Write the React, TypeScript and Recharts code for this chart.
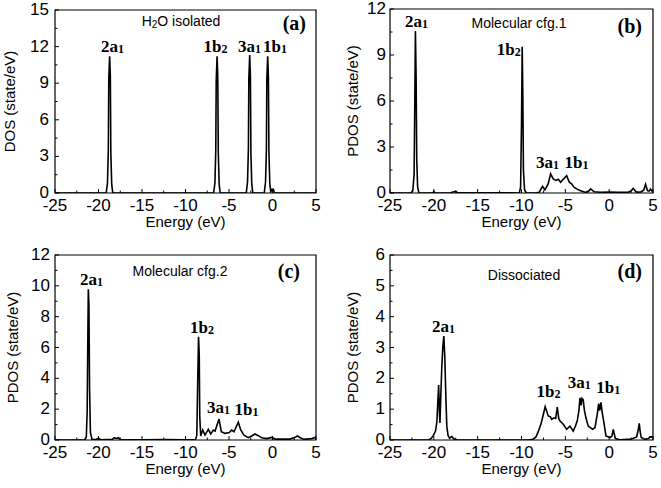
import React from 'react';
import { LineChart, Line, XAxis, YAxis, ReferenceArea, ReferenceDot } from 'recharts';

type Pt = [number, number];

const SANS = '"Liberation Sans", Arial, sans-serif';
const SERIF = '"Liberation Serif", "Times New Roman", serif';

// energy axis, major every 5 eV, minor every 2.5 eV
const energyTicks = [-25, -22.5, -20, -17.5, -15, -12.5, -10, -7.5, -5, -2.5, 0, 2.5, 5];

const yTicksA = [0, 1.5, 3, 4.5, 6, 7.5, 9, 10.5, 12, 13.5, 15];
const yTicksB = [0, 1.5, 3, 4.5, 6, 7.5, 9, 10.5, 12];
const yTicksC = [0, 1, 2, 3, 4, 5, 6, 7, 8, 9, 10, 11, 12];
const yTicksD = [0, 0.5, 1, 1.5, 2, 2.5, 3, 3.5, 4, 4.5, 5, 5.5, 6];

// (a) isolated H2O, total DOS
const isolatedDos: Pt[] = [
  [-25, 0], [-19.12, 0], [-18.97, 0.8], [-18.87, 3.6], [-18.82, 9.3], [-18.72, 11.2], [-18.64, 9.6], [-18.58, 3.2], [-18.48, 0.7], [-18.36, 0],
  [-6.77, 0], [-6.62, 0.8], [-6.52, 3.5], [-6.47, 9.2], [-6.37, 11.2], [-6.29, 9.5], [-6.23, 3.3], [-6.13, 0.7], [-6.01, 0],
  [-3.02, 0], [-2.87, 0.9], [-2.77, 3.6], [-2.72, 9.4], [-2.62, 11.3], [-2.54, 9.6], [-2.48, 3.2], [-2.38, 0.7], [-2.26, 0],
  [-0.95, 0], [-0.8, 0.9], [-0.7, 3.6], [-0.65, 9.4], [-0.55, 11.2], [-0.47, 9.5], [-0.41, 3.3], [-0.31, 0.8], [-0.2, 0.1],
  [-0.05, 0.3], [0.1, 0.3], [0.22, 0], [5, 0],
];

// (b) molecular configuration 1
const cfg1Pdos: Pt[] = [
  [-25, 0], [-22.6, 0], [-22.4, 0.15], [-22.25, 1.2], [-22.17, 6], [-22.1, 10.57], [-22.02, 7.5], [-21.95, 2.2], [-21.85, 0.4], [-21.7, 0],
  [-20.1, 0], [-20.0, 0.1], [-19.85, 0], [-18.1, 0.02], [-17.8, 0.07], [-17.5, 0.1], [-17.3, 0.02], [-15, 0.01], [-12.6, 0.02],
  [-10.25, 0], [-10.1, 0.4], [-10.0, 4.5], [-9.92, 9.54], [-9.85, 6.5], [-9.78, 1.5], [-9.65, 0.2], [-9.45, 0],
  [-8.3, 0.02], [-7.98, 0.05], [-7.6, 0.44], [-7.33, 0.2], [-6.95, 0.61], [-6.68, 1.25], [-6.38, 0.92], [-6.07, 0.82],
  [-5.8, 0.9], [-5.54, 0.7], [-5.24, 0.9], [-4.85, 1.13], [-4.55, 0.7], [-4.28, 0.6], [-4.02, 0.38], [-3.71, 0.27],
  [-3.33, 0.17], [-2.76, 0.05], [-2.4, 0.08], [-2.12, 0.27], [-1.7, 0.08], [-1.0, 0.05], [0, 0.06], [1.0, 0.05],
  [2.2, 0.06], [2.5, 0.14], [2.74, 0.3], [3.1, 0.06], [3.65, 0.07], [3.95, 0.2], [4.15, 0.57], [4.37, 0.15],
  [4.55, 0.12], [4.72, 0.25], [5, 0.05],
];

// (c) molecular configuration 2
const cfg2Pdos: Pt[] = [
  [-25, 0], [-21.6, 0], [-21.4, 0.2], [-21.3, 1.9], [-21.24, 5.8], [-21.17, 9.77], [-21.1, 8.8], [-21.03, 3.5], [-20.93, 0.5],
  [-20.75, 0.05], [-20.3, 0.03], [-20.0, 0.1], [-19.7, 0.02], [-18.4, 0.05], [-18.2, 0.15], [-17.9, 0.1], [-17.7, 0.15],
  [-17.5, 0.03], [-15, 0.02], [-12.5, 0.03], [-10, 0.02],
  [-8.85, 0.03], [-8.7, 0.3], [-8.6, 3.7], [-8.5, 6.7], [-8.42, 5.5], [-8.36, 1.5], [-8.25, 0.26], [-8.02, 0.65],
  [-7.76, 0.32], [-7.38, 0.69], [-7.1, 0.39], [-6.8, 0.65], [-6.6, 0.58], [-6.15, 1.36], [-5.88, 0.54], [-5.46, 0.43],
  [-4.96, 0.48], [-4.69, 0.65], [-4.42, 0.54], [-3.93, 1.15], [-3.65, 0.65], [-3.28, 0.32], [-2.78, 0.15], [-2.4, 0.26],
  [-2.01, 0.39], [-1.63, 0.28], [-1.24, 0.15], [-0.67, 0.09], [-0.1, 0.17], [0.3, 0.06], [2.0, 0.06], [2.59, 0.17],
  [2.85, 0.26], [3.2, 0.15], [3.6, 0.04], [4.5, 0.09], [4.9, 0.17], [5, 0.1],
];

// (d) dissociated
const dissocPdos: Pt[] = [
  [-25, 0], [-20.6, 0], [-20.3, 0.05], [-20.05, 0.15], [-19.8, 0.3], [-19.65, 0.6], [-19.55, 1.2], [-19.45, 1.78],
  [-19.36, 0.9], [-19.3, 0.55], [-19.22, 1.3], [-19.1, 2.3], [-18.98, 3.0], [-18.86, 3.37], [-18.75, 2.7], [-18.63, 1.4],
  [-18.52, 0.45], [-18.38, 0.15], [-18.2, 0.06], [-17.95, 0.12], [-17.75, 0.04], [-17.4, 0],
  [-9.2, 0], [-8.7, 0.02], [-8.35, 0.1], [-8.05, 0.3], [-7.8, 0.5], [-7.6, 0.72], [-7.3, 1.08], [-6.95, 0.78],
  [-6.7, 0.75], [-6.56, 0.67], [-6.3, 0.72], [-6.1, 0.7], [-5.92, 1.07], [-5.75, 0.7], [-5.62, 0.62], [-5.24, 0.51],
  [-4.85, 0.35], [-4.48, 0.45], [-4.1, 0.29], [-3.85, 0.45], [-3.64, 0.62], [-3.45, 0.95], [-3.33, 1.37], [-3.2, 1.12],
  [-3.1, 1.35], [-2.96, 1.3], [-2.82, 0.95], [-2.65, 0.72], [-2.39, 0.45], [-1.89, 0.35], [-1.62, 0.4], [-1.36, 0.83],
  [-1.2, 1.18], [-1.08, 0.95], [-0.94, 1.22], [-0.8, 0.9], [-0.6, 0.56], [-0.37, 0.13], [0.09, 0.08], [0.3, 0.12],
  [0.47, 0.34], [0.7, 0.05], [1.2, 0.01], [2.55, 0.03], [3.13, 0.1], [3.3, 0.3], [3.43, 0.54], [3.55, 0.25],
  [3.66, 0.08], [4.08, 0.02], [4.5, 0.05], [4.65, 0.1], [4.85, 0.1], [5, 0.08],
];

// orbital labels: text, subscript, anchor (eV, value)
type Orb = { t: string; s: string; e: number; v: number };
const isolatedLabels: Orb[] = [
  { t: '2a', s: '1', e: -18.4, v: 11.58 },
  { t: '1b', s: '2', e: -6.55, v: 11.58 },
  { t: '3a', s: '1', e: -2.64, v: 11.58 },
  { t: '1b', s: '1', e: 0.29, v: 11.58 },
];
const cfg1Labels: Orb[] = [
  { t: '2a', s: '1', e: -21.98, v: 10.85 },
  { t: '1b', s: '2', e: -11.45, v: 9.0 },
  { t: '3a', s: '1', e: -7.04, v: 1.61 },
  { t: '1b', s: '1', e: -3.73, v: 1.61 },
];
const cfg2Labels: Orb[] = [
  { t: '2a', s: '1', e: -20.8, v: 10.05 },
  { t: '1b', s: '2', e: -8.1, v: 6.96 },
  { t: '3a', s: '1', e: -6.2, v: 1.73 },
  { t: '1b', s: '1', e: -3.0, v: 1.62 },
];
const dissocLabels: Orb[] = [
  { t: '2a', s: '1', e: -18.9, v: 3.51 },
  { t: '1b', s: '2', e: -6.93, v: 1.4 },
  { t: '3a', s: '1', e: -3.4, v: 1.68 },
  { t: '1b', s: '1', e: -0.1, v: 1.51 },
];

function XTick({ x, y, payload }: any) {
  const v = payload.value;
  const major = Math.abs(v / 5 - Math.round(v / 5)) < 1e-6;
  return (
    <g>
      <line x1={x} x2={x} y1={y} y2={y - (major ? 4 : 2.5)} stroke="#000" strokeWidth={1} />
      {major && (
        <text x={x} y={y + 18} textAnchor="middle" fontSize={17} fontFamily={SANS} fill="#000">
          {v}
        </text>
      )}
    </g>
  );
}

function YTick({ x, y, payload, step, gap }: any) {
  const v = payload.value;
  const major = Math.abs(v / step - Math.round(v / step)) < 1e-6;
  return (
    <g>
      <line x1={x} x2={x + (major ? 4 : 2.5)} y1={y} y2={y} stroke="#000" strokeWidth={1} />
      {major && (
        <text x={x - gap} y={y + 5} textAnchor="end" fontSize={17} fontFamily={SANS} fill="#000">
          {v}
        </text>
      )}
    </g>
  );
}

function OrbitalText({ cx, cy, orb }: any) {
  return (
    <text x={cx} y={cy} textAnchor="middle" fontFamily={SERIF} fontWeight="bold" fontSize={17} fill="#000">
      {orb.t}
      <tspan fontSize={12} dy={1}>{orb.s}</tspan>
    </text>
  );
}

interface PanelSpec {
  left: number;
  top: number;
  width: number;
  height: number;
  plotTop: number;
  plotRight: number;
  axisH: number;
  axisW: number;
  points: Pt[];
  labels: Orb[];
  yMax: number;
  yTicks: number[];
  yStep: number;
  yGap: number;
  yTitle: string;
  yTitleX: number;
  title: React.ReactNode;
  titleX: number;
  titleY: number;
  letter: string;
  letterRight: number;
  letterY: number;
}

function Panel({ spec }: { spec: PanelSpec }) {
  const data = spec.points.map(([e, v]) => ({ e, v }));
  const decor = (props: any) => {
    const { x, y, width, height } = props.viewBox;
    return (
      <g>
        <text x={x + spec.titleX} y={y + spec.titleY} textAnchor="middle" fontSize={14} fontFamily={SANS} fill="#000">
          {spec.title}
        </text>
        <text x={x + width - spec.letterRight} y={y + spec.letterY} textAnchor="end" fontSize={20} fontWeight="bold" fontFamily={SERIF} fill="#000">
          ({spec.letter})
        </text>
        <text x={x + width / 2} y={y + height + 34} textAnchor="middle" fontSize={15} fontFamily={SANS} fill="#000">
          Energy (eV)
        </text>
        <text
          transform={`translate(${x + spec.yTitleX}, ${y + height / 2}) rotate(-90)`}
          textAnchor="middle"
          fontSize={15}
          fontFamily={SANS}
          fill="#000"
        >
          {spec.yTitle}
        </text>
      </g>
    );
  };
  return (
    <div style={{ position: 'absolute', left: spec.left, top: spec.top }}>
      <LineChart
        width={spec.width}
        height={spec.height}
        data={data}
        margin={{ top: spec.plotTop, right: spec.plotRight, bottom: 0, left: 0 }}
      >
        <XAxis
          type="number"
          dataKey="e"
          domain={[-25, 5]}
          ticks={energyTicks}
          interval={0}
          allowDataOverflow
          axisLine={false}
          tickLine={false}
          tickSize={0}
          tickMargin={0}
          height={spec.axisH}
          tick={<XTick />}
        />
        <YAxis
          type="number"
          domain={[0, spec.yMax]}
          ticks={spec.yTicks}
          interval={0}
          allowDataOverflow
          axisLine={false}
          tickLine={false}
          tickSize={0}
          tickMargin={0}
          width={spec.axisW}
          tick={<YTick step={spec.yStep} gap={spec.yGap} />}
        />
        <ReferenceArea
          x1={-25}
          x2={5}
          y1={0}
          y2={spec.yMax}
          fill="none"
          stroke="#000"
          strokeWidth={1.2}
          ifOverflow="visible"
          label={decor}
        />
        <Line dataKey="v" type="linear" stroke="#000" strokeWidth={1.6} dot={false} activeDot={false} isAnimationActive={false} />
        {spec.labels.map((orb, i) => (
          <ReferenceDot
            key={i}
            x={orb.e}
            y={orb.v}
            r={0}
            ifOverflow="visible"
            shape={(p: any) => <OrbitalText cx={p.cx} cy={p.cy} orb={orb} />}
          />
        ))}
      </LineChart>
    </div>
  );
}

const panels: PanelSpec[] = [
  {
    left: 0, top: 0, width: 330, height: 240,
    plotTop: 10, plotRight: 14, axisH: 47, axisW: 55,
    points: isolatedDos, labels: isolatedLabels,
    yMax: 15, yTicks: yTicksA, yStep: 3, yGap: 6,
    yTitle: 'DOS (state/eV)', yTitleX: -40,
    title: (
      <>
        H<tspan fontSize={10} dy={2}>2</tspan>
        <tspan dy={-2}>O isolated</tspan>
      </>
    ),
    titleX: 126, titleY: 16,
    letter: 'a', letterRight: 10, letterY: 20,
  },
  {
    left: 330, top: 0, width: 331, height: 240,
    plotTop: 9, plotRight: 8, axisH: 47, axisW: 60,
    points: cfg1Pdos, labels: cfg1Labels,
    yMax: 12, yTicks: yTicksB, yStep: 3, yGap: 4,
    yTitle: 'PDOS (state/eV)', yTitleX: -32,
    title: 'Molecular cfg.1',
    titleX: 129, titleY: 19,
    letter: 'b', letterRight: 11, letterY: 24,
  },
  {
    left: 0, top: 240, width: 330, height: 248,
    plotTop: 15, plotRight: 14, axisH: 48, axisW: 55,
    points: cfg2Pdos, labels: cfg2Labels,
    yMax: 12, yTicks: yTicksC, yStep: 2, yGap: 5,
    yTitle: 'PDOS (state/eV)', yTitleX: -37,
    title: 'Molecular cfg.2',
    titleX: 125, titleY: 21,
    letter: 'c', letterRight: 16, letterY: 23,
  },
  {
    left: 330, top: 240, width: 331, height: 248,
    plotTop: 15, plotRight: 8, axisH: 48, axisW: 60,
    points: dissocPdos, labels: dissocLabels,
    yMax: 6, yTicks: yTicksD, yStep: 1, yGap: 5,
    yTitle: 'PDOS (state/eV)', yTitleX: -32,
    title: 'Dissociated',
    titleX: 134, titleY: 25,
    letter: 'd', letterRight: 11, letterY: 23,
  },
];

export default function App() {
  return (
    <div style={{ position: 'absolute', left: 0, top: 0, width: 661, height: 488, background: '#fff' }}>
      {panels.map((p, i) => (
        <Panel key={i} spec={p} />
      ))}
    </div>
  );
}
